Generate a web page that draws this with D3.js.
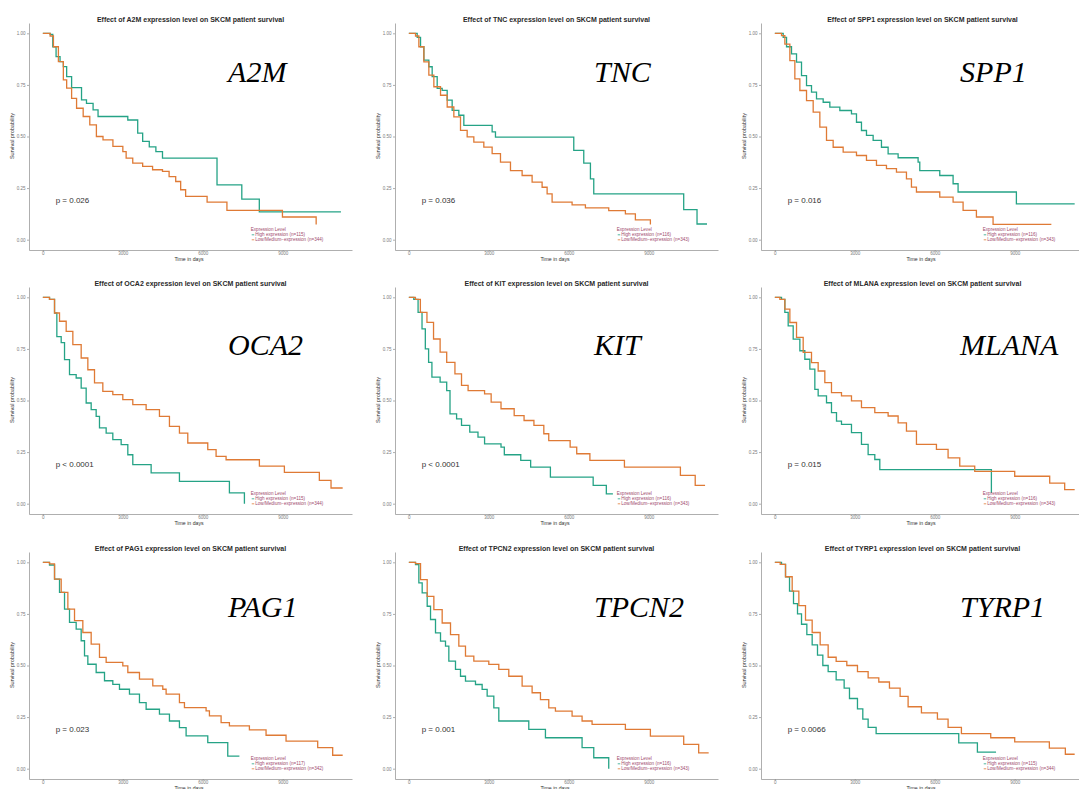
<!DOCTYPE html>
<html>
<head>
<meta charset="utf-8">
<script src="https://cdn.jsdelivr.net/npm/d3@7"></script>
<style>
  body { margin: 0; background: #fff; }
  svg { display: block; }
  .axis path, .axis line { stroke: #8c8c8c; stroke-width: 0.7; }
  .axis text { fill: #7a7a7a; font-size: 4.5px; font-family: "Liberation Sans", Arial, sans-serif; }
</style>
</head>
<body>
<svg id="chart" width="1079" height="789"></svg>
<script>
const genes = ["A2M", "TNC", "SPP1", "OCA2", "KIT", "MLANA", "PAG1", "TPCN2", "TYRP1"];
const pValues = ["p = 0.026", "p = 0.036", "p = 0.016", "p < 0.0001", "p < 0.0001", "p = 0.015", "p = 0.023", "p = 0.001", "p = 0.0066"];
const nHigh = [115, 116, 116, 115, 116, 116, 117, 116, 115];
const nLow = [344, 343, 343, 344, 343, 343, 342, 343, 344];
const xTicks = [0, 3000, 6000, 9000];
const yTicks = [0, 0.25, 0.5, 0.75, 1];

// [day, survival probability] step points
const a2mHigh = [[0,1],[273,0.995],[372,0.935],[496,0.887],[645,0.863],[769,0.839],[893,0.79],[1079,0.737],[1451,0.677],[1637,0.661],[1885,0.629],[2071,0.597],[3187,0.58],[3559,0.516],[3745,0.476],[3993,0.45],[4241,0.427],[4489,0.395],[6535,0.266],[7465,0.197],[8122,0.135],[11185,0.135]];
const a2mLow = [[0,1],[273,0.987],[397,0.935],[583,0.863],[769,0.774],[893,0.734],[1079,0.685],[1265,0.637],[1513,0.597],[1761,0.556],[2009,0.5],[2257,0.484],[2629,0.452],[3001,0.427],[3125,0.395],[3373,0.371],[3745,0.355],[4117,0.339],[4489,0.331],[4737,0.306],[4985,0.282],[5171,0.242],[5357,0.21],[6163,0.182],[6907,0.142],[8990,0.11],[10255,0.073]];
const tncHigh = [[0,1],[313,0.98],[438,0.935],[563,0.87],[750,0.838],[875,0.79],[1063,0.733],[1250,0.724],[1438,0.676],[1625,0.627],[1875,0.603],[2063,0.554],[3125,0.522],[3250,0.497],[6188,0.433],[6563,0.371],[6813,0.295],[6938,0.222],[10313,0.146],[10813,0.076],[11188,0.076]];
const tncLow = [[0,1],[250,0.987],[375,0.935],[563,0.862],[750,0.797],[938,0.741],[1188,0.7],[1438,0.643],[1688,0.595],[1938,0.53],[2188,0.498],[2438,0.473],[2813,0.449],[3125,0.417],[3438,0.376],[3813,0.335],[4250,0.311],[4625,0.279],[5000,0.254],[5188,0.222],[5375,0.182],[6125,0.169],[6625,0.154],[7500,0.141],[8125,0.125],[8500,0.096],[9063,0.073]];
const spp1High = [[0,1],[313,0.98],[438,0.935],[625,0.9],[813,0.86],[1000,0.795],[1188,0.747],[1375,0.715],[1563,0.682],[1813,0.666],[2063,0.642],[2438,0.626],[2875,0.61],[3063,0.569],[3250,0.529],[3438,0.505],[3688,0.481],[4000,0.448],[4250,0.416],[4625,0.397],[5375,0.376],[5438,0.335],[6188,0.311],[6688,0.271],[6875,0.231],[9063,0.174],[11250,0.174]];
const spp1Low = [[0,1],[250,0.989],[375,0.948],[563,0.868],[750,0.779],[938,0.723],[1188,0.674],[1438,0.618],[1688,0.545],[1938,0.481],[2188,0.448],[2563,0.424],[3063,0.408],[3438,0.384],[3813,0.36],[4188,0.344],[4563,0.327],[4938,0.295],[5125,0.255],[5313,0.231],[6188,0.206],[6688,0.182],[7063,0.142],[7563,0.11],[8188,0.074],[10375,0.074]];
const oca2High = [[0,1],[250,0.99],[438,0.924],[525,0.81],[688,0.78],[813,0.698],[1000,0.625],[1250,0.609],[1438,0.56],[1625,0.488],[1813,0.456],[2000,0.423],[2125,0.367],[2375,0.342],[2625,0.31],[2938,0.286],[3188,0.237],[3375,0.189],[4063,0.149],[5125,0.108],[7000,0.052],[7563,0]];
const oca2Low = [[0,1],[250,0.99],[438,0.924],[625,0.884],[875,0.835],[1125,0.771],[1438,0.706],[1688,0.649],[1938,0.585],[2250,0.544],[2625,0.528],[3000,0.504],[3375,0.48],[3875,0.456],[4375,0.423],[4750,0.375],[5125,0.342],[5438,0.294],[6188,0.262],[6500,0.229],[6875,0.213],[8125,0.182],[9063,0.152],[10375,0.113],[10813,0.076],[11250,0.076]];
const kitHigh = [[0,1],[185,0.99],[346,0.927],[494,0.847],[618,0.75],[741,0.685],[865,0.613],[1173,0.589],[1420,0.548],[1544,0.435],[1791,0.411],[1976,0.379],[2285,0.347],[2594,0.323],[2841,0.29],[3458,0.274],[3582,0.237],[4199,0.21],[4570,0.177],[5311,0.129],[6916,0.089],[7410,0.048],[7657,0.048]];
const kitLow = [[0,1],[247,0.99],[432,0.927],[679,0.879],[926,0.798],[1173,0.734],[1420,0.685],[1729,0.629],[1976,0.573],[2223,0.548],[2841,0.532],[3088,0.492],[3458,0.46],[3952,0.427],[4323,0.403],[4693,0.379],[5064,0.339],[5249,0.306],[6052,0.274],[6299,0.242],[6793,0.21],[8089,0.177],[10189,0.137],[10745,0.089],[11115,0.089]];
const mlanaHigh = [[0,1],[250,0.99],[375,0.927],[500,0.862],[688,0.797],[938,0.741],[1125,0.7],[1313,0.652],[1500,0.554],[1625,0.522],[1938,0.489],[2125,0.441],[2313,0.4],[2500,0.384],[2875,0.344],[3250,0.287],[3500,0.238],[3750,0.214],[3938,0.165],[8125,0.052]];
const mlanaLow = [[0,1],[188,0.99],[375,0.943],[563,0.878],[813,0.806],[1063,0.733],[1375,0.684],[1625,0.643],[1875,0.587],[2125,0.538],[2500,0.522],[2875,0.498],[3250,0.465],[3750,0.441],[4250,0.425],[4625,0.392],[4938,0.352],[5313,0.287],[6063,0.263],[6500,0.222],[6938,0.182],[7500,0.157],[9000,0.133],[10313,0.1],[10875,0.068],[11250,0.068]];
const pag1High = [[0,1],[250,0.987],[438,0.919],[625,0.854],[813,0.773],[1000,0.709],[1250,0.676],[1438,0.62],[1563,0.547],[1688,0.506],[2000,0.466],[2313,0.426],[2625,0.409],[2875,0.385],[3250,0.361],[3625,0.32],[3875,0.288],[4375,0.264],[4750,0.231],[5125,0.199],[5375,0.159],[6188,0.126],[6938,0.061],[7375,0.061]];
const pag1Low = [[0,1],[250,0.992],[438,0.919],[688,0.854],[938,0.773],[1188,0.717],[1500,0.66],[1813,0.604],[2125,0.539],[2375,0.515],[3000,0.498],[3188,0.466],[3625,0.434],[4125,0.401],[4500,0.385],[4625,0.361],[5125,0.32],[5313,0.296],[6125,0.28],[6250,0.256],[6688,0.223],[7000,0.207],[7750,0.188],[8375,0.162],[9125,0.134],[10313,0.102],[10875,0.065],[11250,0.065]];
const tpcn2High = [[0,1],[250,0.989],[375,0.9],[500,0.852],[688,0.787],[813,0.723],[1000,0.658],[1188,0.618],[1375,0.594],[1500,0.521],[1750,0.481],[1938,0.448],[2125,0.424],[2500,0.408],[2750,0.384],[2938,0.352],[3188,0.295],[3375,0.231],[4500,0.19],[5125,0.15],[6500,0.102],[6938,0.053],[7500,0]];
const tpcn2Low = [[0,1],[250,0.994],[438,0.916],[688,0.835],[938,0.771],[1250,0.706],[1563,0.65],[1875,0.594],[2125,0.545],[2438,0.521],[3000,0.505],[3375,0.481],[3750,0.448],[4250,0.4],[4625,0.368],[4938,0.335],[5250,0.295],[5500,0.279],[6125,0.255],[6500,0.231],[6875,0.215],[8125,0.19],[9063,0.158],[10313,0.118],[10875,0.077],[11250,0.077]];
const tyrp1High = [[0,1],[250,0.99],[400,0.93],[550,0.86],[700,0.8],[850,0.75],[1000,0.7],[1200,0.65],[1400,0.6],[1600,0.55],[1800,0.5],[2000,0.47],[2300,0.43],[2600,0.39],[2800,0.34],[3100,0.29],[3300,0.24],[3500,0.2],[3800,0.17],[6900,0.125],[7600,0.08],[8300,0.08]];
const tyrp1Low = [[0,1],[200,0.99],[400,0.93],[650,0.86],[900,0.79],[1150,0.72],[1400,0.66],[1700,0.6],[2000,0.54],[2300,0.52],[2700,0.5],[3100,0.47],[3500,0.44],[3900,0.42],[4300,0.39],[4700,0.35],[5000,0.3],[5500,0.27],[6100,0.24],[6500,0.2],[7000,0.17],[8100,0.15],[9000,0.13],[10300,0.1],[10900,0.07],[11250,0.07]];

const highCurves = [a2mHigh, tncHigh, spp1High, oca2High, kitHigh, mlanaHigh, pag1High, tpcn2High, tyrp1High];
const lowCurves = [a2mLow, tncLow, spp1Low, oca2Low, kitLow, mlanaLow, pag1Low, tpcn2Low, tyrp1Low];

// layout
const colX = [0, 366, 732];
const rowY = [0, 264, 529];
const labelY = [0.765, 0.72, 0.735];
const colors = { high: "#25a386", low: "#df7a35" };
const sans = '"Liberation Sans", Arial, sans-serif';

const svg = d3.select("#chart");

const x = d3.scaleLinear().domain([-520, 11600]).range([29, 352]);
const y = d3.scaleLinear().domain([-0.05, 1.05]).range([250, 23]);
const line = d3.line()
  .x((d) => x(d[0]))
  .y((d) => y(d[1]))
  .curve(d3.curveStepAfter);

genes.forEach((gene, i) => {
  const col = i % 3, row = Math.floor(i / 3);
  const g = svg.append("g").attr("transform", `translate(${colX[col]},${rowY[row]})`);

  g.append("g")
    .attr("class", "axis")
    .attr("transform", "translate(29,0)")
    .call(d3.axisLeft(y).tickValues(yTicks).tickFormat(d3.format(".2f")).tickSize(2).tickSizeOuter(0).tickPadding(1.5));

  g.append("g")
    .attr("class", "axis")
    .attr("transform", "translate(0,250)")
    .call(d3.axisBottom(x).tickValues(xTicks).tickFormat(d3.format("d")).tickSize(1.5).tickSizeOuter(0).tickPadding(0.3));

  g.append("text")
    .attr("x", 190.5)
    .attr("y", 21.5)
    .attr("text-anchor", "middle")
    .style("font-family", sans)
    .style("font-weight", "bold")
    .style("font-size", "7px")
    .style("fill", "#2a2a2a")
    .text(`Effect of ${gene} expression level on SKCM patient survival`);

  g.append("text")
    .attr("transform", "translate(14,136) rotate(-90)")
    .attr("text-anchor", "middle")
    .style("font-family", sans)
    .style("font-size", "5.5px")
    .style("fill", "#333")
    .text("Survival probability");

  g.append("text")
    .attr("x", 189)
    .attr("y", 260.5)
    .attr("text-anchor", "middle")
    .style("font-family", sans)
    .style("font-size", "5.2px")
    .style("fill", "#333")
    .text("Time in days");

  g.append("path")
    .attr("d", line(highCurves[i]))
    .attr("fill", "none")
    .attr("stroke", colors.high)
    .attr("stroke-width", 1.3);

  g.append("path")
    .attr("d", line(lowCurves[i]))
    .attr("fill", "none")
    .attr("stroke", colors.low)
    .attr("stroke-width", 1.3);

  g.append("text")
    .attr("x", x(480))
    .attr("y", y(0.18))
    .style("font-family", sans)
    .style("font-size", "8px")
    .style("fill", "#333")
    .text(pValues[i]);

  g.append("text")
    .attr("x", x(6950))
    .attr("y", y(labelY[row]))
    .style("font-family", '"Liberation Serif", "Times New Roman", serif')
    .style("font-style", "italic")
    .style("font-size", "30px")
    .style("fill", "#000")
    .text(gene);

  // legend
  const lx = x(7800);
  const leg = g.append("g").style("font-family", sans).style("font-size", "4.6px").style("fill", "#a04a6e");
  leg.append("text").attr("x", lx).attr("y", 231).text("Expression Level");
  const items = [
    { label: `High expression (n=${nHigh[i]})`, color: colors.high },
    { label: `Low/Medium\u2212expression (n=${nLow[i]})`, color: colors.low },
  ];
  items.forEach((it, k) => {
    const yy = 236.3 + k * 5;
    leg.append("line")
      .attr("x1", lx + 1).attr("x2", lx + 3.5)
      .attr("y1", yy - 1.5).attr("y2", yy - 1.5)
      .attr("stroke", it.color).attr("stroke-width", 0.8);
    leg.append("text").attr("x", lx + 4.5).attr("y", yy).text(it.label);
  });
});
</script>
</body>
</html>
